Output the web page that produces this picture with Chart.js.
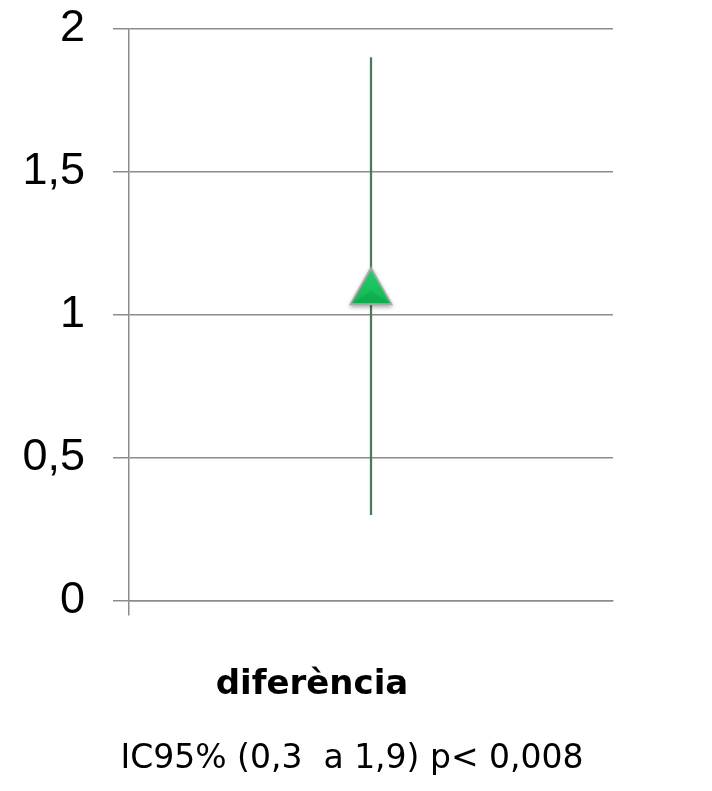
<!DOCTYPE html>
<html>
<head>
<meta charset="utf-8">
<script src="https://cdn.jsdelivr.net/npm/chart.js@4/dist/chart.umd.min.js"></script>
<style>
  html, body { margin: 0; padding: 0; background: #ffffff; }
  #wrap { width: 712px; height: 791px; }
</style>
</head>
<body>
<div id="wrap"><canvas id="chart" width="712" height="791"></canvas></div>
<script>
// Values
const categories = ['diferència'];
const pointValues = [1.1];
const ciLower = [0.3];
const ciUpper = [1.9];
const yTicks = [0, 0.5, 1, 1.5, 2];
const caption = 'IC95% (0,3  a 1,9) p< 0,008';

const gridColor = '#8c8c8c';

// Green triangle marker with a grey rim and a soft shadow
function makeTriangle() {
  const c = document.createElement('canvas');
  c.width = 54; c.height = 50;
  const g = c.getContext('2d');
  const top = 5, base = 44, left = 5, right = 49, mid = 27;
  g.save();
  g.shadowColor = 'rgba(0,0,0,0.35)';
  g.shadowBlur = 4;
  g.shadowOffsetY = 2;
  g.beginPath();
  g.moveTo(mid, top); g.lineTo(right, base); g.lineTo(left, base); g.closePath();
  g.fillStyle = '#a3aba5';
  g.fill();
  g.restore();
  // green face
  g.beginPath();
  g.moveTo(mid, top + 4); g.lineTo(right - 3, base - 2); g.lineTo(left + 3, base - 2); g.closePath();
  const grad = g.createLinearGradient(0, top, 0, base);
  grad.addColorStop(0, '#26d06c');
  grad.addColorStop(1, '#11b552');
  g.fillStyle = grad;
  g.fill();
  // darker lower facet
  g.beginPath();
  g.moveTo(mid, base - 14); g.lineTo(right - 3, base - 2); g.lineTo(left + 3, base - 2); g.closePath();
  g.fillStyle = 'rgba(0,110,45,0.16)';
  g.fill();
  return c;
}
const marker = makeTriangle();

new Chart(document.getElementById('chart'), {
  type: 'bar',
  data: {
    labels: categories,
    datasets: [
      {
        type: 'line',
        data: pointValues,
        showLine: false,
        pointStyle: marker,
        pointRadius: 22,
        order: 0
      },
      {
        type: 'bar',
        data: ciLower.map((lo, i) => [lo, ciUpper[i]]),
        backgroundColor: '#4a7b5c',
        barThickness: 1.6,
        order: 1
      }
    ]
  },
  options: {
    responsive: false,
    animation: false,
    events: [],
    layout: { padding: { top: 29, left: 0, right: 8, bottom: 0 } },
    plugins: {
      legend: { display: false },
      tooltip: { enabled: false },
      title: {
        display: true,
        position: 'bottom',
        text: caption,
        color: '#000000',
        font: { family: 'DejaVu Sans', size: 33, weight: 'normal' },
        padding: { top: 33, bottom: 12 }
      }
    },
    scales: {
      x: {
        afterFit: (s) => { s.height = 106; s.paddingLeft = 0; s.paddingRight = 0; },
        grid: {
          drawOnChartArea: false,
          drawTicks: true,
          tickLength: 15,
          lineWidth: 1.5,
          color: (ctx) => ctx.index === 0 ? gridColor : 'rgba(0,0,0,0)'
        },
        border: { display: true, color: gridColor, width: 1.5 },
        ticks: {
          color: '#000000',
          font: { family: 'DejaVu Sans', size: 34, weight: 'bold' },
          padding: 49,
          labelOffset: -59,
          maxRotation: 0
        }
      },
      y: {
        min: 0,
        max: 2,
        afterBuildTicks: (s) => { s.ticks = yTicks.map(v => ({ value: v })); },
        afterFit: (s) => { s.width = 129; s.paddingTop = 0; s.paddingBottom = 0; },
        grid: { color: gridColor, lineWidth: 1.5, tickLength: 16, drawTicks: true },
        border: { display: true, color: gridColor, width: 1.5 },
        ticks: {
          color: '#000000',
          padding: 28,
          font: { family: 'Liberation Sans', size: 45 },
          callback: (v) => String(v).replace('.', ',')
        }
      },
      // empty right-hand margin box
      yRight: {
        position: 'right',
        min: 0,
        max: 2,
        grid: { display: false },
        border: { display: false },
        ticks: { display: false },
        afterFit: (s) => { s.width = 91; s.paddingTop = 0; s.paddingBottom = 0; }
      }
    }
  }
});
</script>
</body>
</html>
